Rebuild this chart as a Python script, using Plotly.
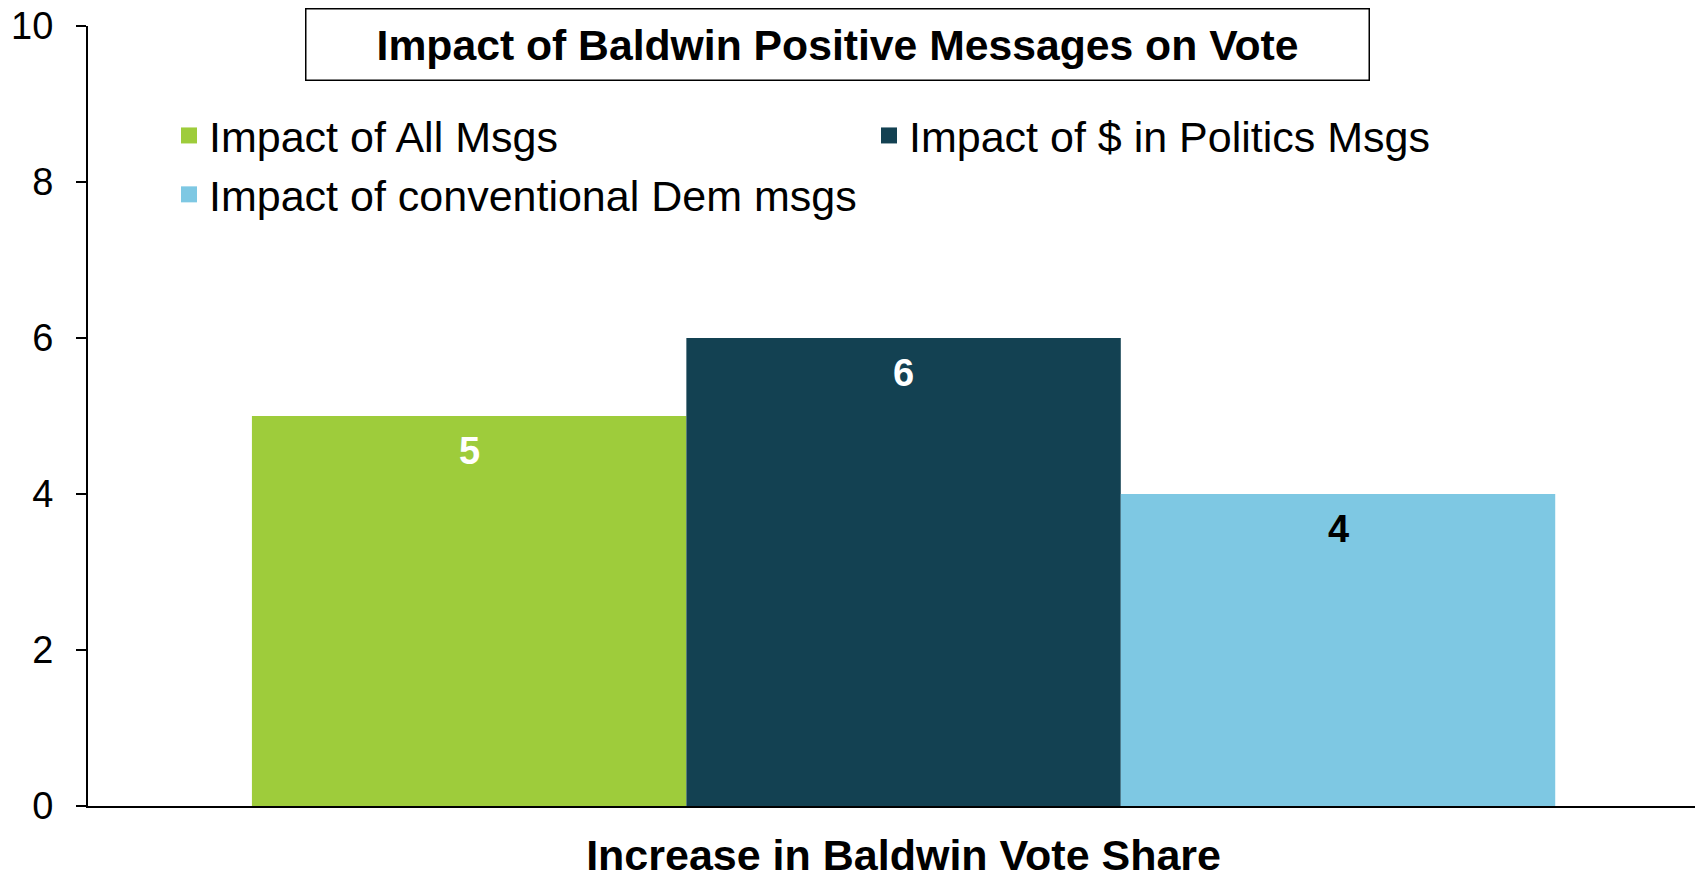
import plotly.graph_objects as go

category = ["Increase in Baldwin Vote Share"]
series_names = ["Impact of All Msgs", "Impact of $ in Politics Msgs", "Impact of conventional Dem msgs"]
series_values = [5, 6, 4]
series_colors = ["#9ECC3B", "#134152", "#7EC8E3"]
label_colors = ["white", "white", "black"]
y_ticks = [0, 2, 4, 6, 8, 10]
title_text = "Impact of Baldwin Positive Messages on Vote"

FONT = "Liberation Sans, Arial, sans-serif"
OFF = 8  # default page body margin
W, H = 1703 - OFF, 874 - OFF
ML, MR, MT, MB = 88 - OFF, 0, 26 - OFF, 68
bargap = 0.193

fig = go.Figure()
for name, val, col in zip(series_names, series_values, series_colors):
    fig.add_trace(go.Bar(x=category, y=[val], name=name, marker=dict(color=col, line=dict(width=0)),
                         showlegend=False, hoverinfo="skip"))
for name, col in zip(series_names, series_colors):
    fig.add_trace(go.Scatter(x=[None], y=[None], mode="markers", name=name,
                             marker=dict(symbol="square", size=16, color=col), showlegend=True))

n = len(series_values)
bw = (1 - bargap) / n
annotations = []
for i, (val, lc) in enumerate(zip(series_values, label_colors)):
    annotations.append(dict(x=(i - (n - 1) / 2) * bw, y=val, xref="x", yref="y", text=f"<b>{val}</b>",
                            showarrow=False, yanchor="middle", yshift=-35,
                            font=dict(family=FONT, size=38, color=lc)))

plot_w = W - ML - MR
plot_h = H - MT - MB
box_left, box_right, box_top, box_bot = 304 - OFF, 1370 - OFF, 7 - OFF, 81 - OFF
annotations.append(dict(x=((box_left + box_right) / 2 - ML) / plot_w, y=1 - ((box_top + box_bot) / 2 - MT) / plot_h,
                        xref="paper", yref="paper", text=f"<b>{title_text}</b>", showarrow=False,
                        xanchor="center", yanchor="middle", width=box_right - box_left - 4,
                        height=box_bot - box_top - 4, borderpad=0, bordercolor="black", borderwidth=1.5,
                        bgcolor="white", font=dict(family=FONT, size=42.7, color="black")))

leg_left_px, leg_top_px = 169 - OFF, 101 - OFF
fig.update_layout(
    width=W, height=H,
    margin=dict(l=ML, r=MR, t=MT, b=MB, autoexpand=False),
    paper_bgcolor="white", plot_bgcolor="white",
    barmode="group", bargap=bargap, bargroupgap=0,
    font=dict(family=FONT, color="black"),
    showlegend=True,
    legend=dict(orientation="h", xref="paper", yref="paper",
                x=(leg_left_px - ML) / plot_w, y=1 - (leg_top_px - MT) / plot_h,
                xanchor="left", yanchor="top", entrywidth=655, entrywidthmode="pixels",
                font=dict(family=FONT, size=43, color="black"), bgcolor="rgba(0,0,0,0)",
                traceorder="normal", tracegroupgap=0),
    annotations=annotations,
    xaxis=dict(range=[-0.505, 0.495], showline=True, linecolor="black", linewidth=2, ticks="",
               tickfont=dict(family=FONT, size=43, color="black"), ticklabelstandoff=10,
               ticklabeloverflow="allow",
               tickprefix="<b>", ticksuffix="</b>", showgrid=False, zeroline=False, fixedrange=True),
    yaxis=dict(range=[0, 10], tickvals=y_ticks, showline=True, linecolor="black", linewidth=2,
               ticks="outside", ticklen=10, tickwidth=2, tickcolor="black", showgrid=False, zeroline=False,
               ticklabeloverflow="allow",
               tickfont=dict(family=FONT, size=38, color="black"), ticklabelstandoff=15, fixedrange=True),
)

fig.write_html("out.html")
